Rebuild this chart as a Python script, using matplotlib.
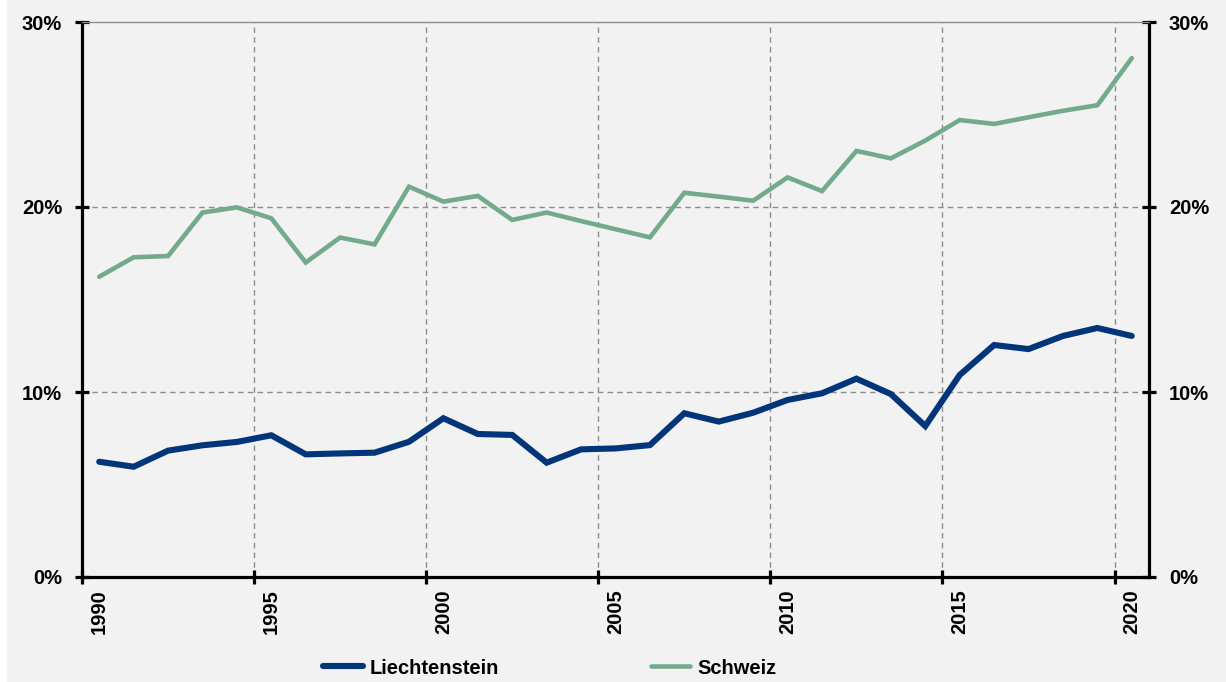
import matplotlib.pyplot as plt
from matplotlib.patches import Rectangle
from matplotlib.ticker import FixedLocator, FuncFormatter

years = list(range(1990, 2021))

# Anteil in Prozent
liechtenstein = [6.23, 5.96, 6.83, 7.12, 7.30, 7.66, 6.63, 6.68, 6.72, 7.31,
                 8.58, 7.73, 7.68, 6.18, 6.90, 6.95, 7.13, 8.85, 8.40, 8.88,
                 9.57, 9.93, 10.72, 9.89, 8.16, 10.92, 12.54, 12.32, 13.03, 13.46,
                 13.03]
schweiz = [16.23, 17.28, 17.35, 19.70, 19.98, 19.39, 17.00, 18.35, 17.98, 21.10,
           20.29, 20.60, 19.30, 19.70, 19.24, 18.80, 18.36, 20.77, 20.56, 20.34,
           21.60, 20.86, 23.03, 22.63, 23.59, 24.70, 24.49, 24.85, 25.20, 25.50,
           28.05]

y_ticks = [0, 10, 20, 30]
label_years = [1990, 1995, 2000, 2005, 2010, 2015, 2020]

bg = '#f2f2f2'
fs = 14.5
plt.rcParams['font.family'] = ['Liberation Sans', 'DejaVu Sans']
plt.rcParams['font.weight'] = 'bold'
plt.rcParams['xtick.labelsize'] = fs
plt.rcParams['ytick.labelsize'] = fs

fig = plt.figure(figsize=(12.26, 6.82), dpi=100, facecolor=bg)
fig.patches.append(Rectangle((0, 0), 6 / 1226, 1, transform=fig.transFigure,
                             color='white', zorder=0))
ax = fig.add_axes([82 / 1226, 1 - 577 / 682, (1149 - 82) / 1226, (577 - 22) / 682])
ax.set_facecolor(bg)

# Kategorienachse: Werte in der Mitte jeder Kategorie
xs = [i + 0.5 for i in range(len(years))]
ax.plot(xs, schweiz, color='#74aa8c', lw=3.3, solid_capstyle='round',
        solid_joinstyle='miter', label='Schweiz', zorder=3)
ax.plot(xs, liechtenstein, color='#00357a', lw=4.4, solid_capstyle='round',
        solid_joinstyle='miter', label='Liechtenstein', zorder=4)

ax.set_xlim(0, len(years))
ax.set_ylim(0, 30)

# Gitterlinien
for v in y_ticks[1:-1]:
    ax.axhline(v, color='#8c8c8c', lw=1, ls=(0, (4, 3)), zorder=1)
for b in range(5, len(years), 5):
    ax.axvline(b, color='#8c8c8c', lw=1, ls=(0, (4, 3)), zorder=1)

for side in ['left', 'right', 'bottom']:
    ax.spines[side].set_linewidth(2.3)
    ax.spines[side].set_color('black')
ax.spines['top'].set_color('#8c8c8c')
ax.spines['top'].set_linewidth(1)

ax.yaxis.set_major_locator(FixedLocator(y_ticks))
ax.yaxis.set_major_formatter(FuncFormatter(lambda v, p: f'{v:.0f}%'))
ax.tick_params(axis='y', which='major', direction='inout', length=9.5, width=2.3,
               left=True, right=True, labelleft=True, labelright=True, pad=9.5)

ax.xaxis.set_major_locator(FixedLocator(list(range(0, len(years), 5))))
ax.xaxis.set_minor_locator(FixedLocator([y - years[0] + 0.5 for y in label_years]))
ax.xaxis.set_major_formatter(FuncFormatter(lambda v, p: ''))
ax.xaxis.set_minor_formatter(FuncFormatter(lambda v, p: str(int(v - 0.5) + years[0])))
ax.tick_params(axis='x', which='major', direction='inout', length=9.5, width=2.3)
ax.tick_params(axis='x', which='minor', length=0, pad=9, labelrotation=90)

fig.canvas.draw()
for t in ax.get_yticklabels() + ax.get_xticklabels(minor=True):
    t.set_fontsize(fs)
    t.set_fontweight('bold')

handles, labels = ax.get_legend_handles_labels()
fig.legend(handles[::-1], labels[::-1], ncol=2, loc='center',
           bbox_to_anchor=(550 / 1226, 1 - 668 / 682), frameon=False,
           handlelength=1.95, handletextpad=0.35, columnspacing=7.55,
           prop={'weight': 'bold', 'size': fs})

fig.savefig('out.png', dpi=100, facecolor=bg)
